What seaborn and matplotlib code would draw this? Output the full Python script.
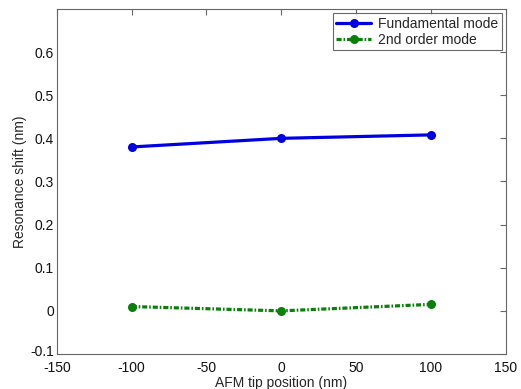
import matplotlib
matplotlib.use("Agg")
import matplotlib.pyplot as plt
import matplotlib.transforms as mtransforms
import seaborn as sns
import pandas as pd

positions = [-100, 0, 100]
fundamental = [0.380, 0.400, 0.408]
second_order = [0.010, 0.000, 0.015]
series_names = ["Fundamental mode", "2nd order mode"]
xtick_vals = [-150, -100, -50, 0, 50, 100, 150]
ytick_vals = [-0.1, 0, 0.1, 0.2, 0.3, 0.4, 0.5, 0.6]

sns.set_style("white")
plt.rcParams['font.family'] = ['Liberation Sans', 'DejaVu Sans']
plt.rcParams['axes.unicode_minus'] = False

df = pd.DataFrame({
    "x": positions * 2,
    "y": fundamental + second_order,
    "series": [series_names[0]] * 3 + [series_names[1]] * 3,
})

fig = plt.figure(figsize=(5.21, 3.89), dpi=100)
ax = fig.add_axes([0.109, 0.090, 0.862, 0.887])

sns.lineplot(data=df[df.series == series_names[0]], x="x", y="y", ax=ax,
             color="#0000e0", linewidth=2.3, marker="o", markersize=6.5,
             markeredgewidth=0, label=series_names[0])
sns.lineplot(data=df[df.series == series_names[1]], x="x", y="y", ax=ax,
             color="#0a800a", linewidth=2.3, linestyle=(0, (1.6, 0.6, 0.5, 0.6)),
             marker="o", markersize=6.5, markeredgewidth=0, label=series_names[1])

ax.set_xlim(-150, 150)
ax.set_ylim(-0.1, 0.7)
ax.set_xticks(xtick_vals)
ax.set_xticklabels([str(v) for v in xtick_vals])
ax.set_yticks(ytick_vals)
ax.set_yticklabels(["-0.1", "0", "0.1", "0.2", "0.3", "0.4", "0.5", "0.6"])
ax.tick_params(direction="in", length=4, width=0.8, top=True, right=True,
               labelsize=10, colors="#666666", labelcolor="#111111")
ax.tick_params(axis="x", pad=5)
ax.tick_params(axis="y", pad=2)
# lift the lowest y label slightly so it clears the first x label (as in reference)
lab0 = ax.get_yticklabels()[0]
lab0.set_transform(lab0.get_transform() + mtransforms.ScaledTranslation(0, 3 / 100, fig.dpi_scale_trans))
for s in ax.spines.values():
    s.set_color("#666666")
    s.set_linewidth(0.8)
ax.set_xlabel("AFM tip position (nm)", fontsize=10, labelpad=1)
ax.set_ylabel("Resonance shift (nm)", fontsize=10, labelpad=2)

leg = ax.legend(loc="upper right", fontsize=10, frameon=True, fancybox=False,
                borderaxespad=0.3, handlelength=2.5, handletextpad=0.5,
                borderpad=0.25, labelspacing=0.15)
leg.get_frame().set_edgecolor("#444444")
leg.get_frame().set_linewidth(0.8)

fig.savefig("out.png", dpi=100)
